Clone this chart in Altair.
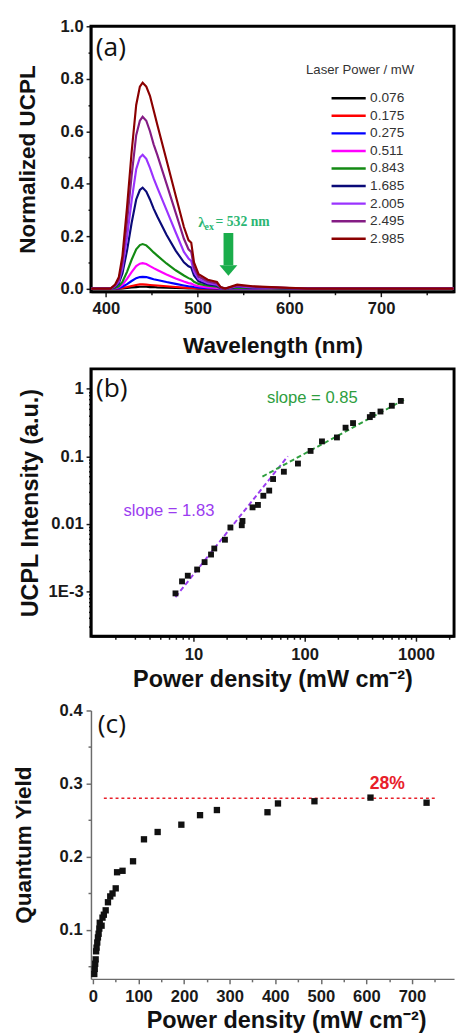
import altair as alt
import pandas as pd

FONT = "Liberation Sans"

# ---------------- panel (a): UCPL spectra ----------------
wavelength = [384, 405, 410, 414, 418, 423, 428, 433, 437, 440, 444, 448, 452, 456, 466, 476,
              485, 490, 493, 496, 501, 511, 521, 525, 530, 543, 560, 580, 600, 620, 700, 779]
power_labels = ["0.076", "0.175", "0.275", "0.511", "0.843", "1.685", "2.005", "2.495", "2.985"]
power_colors = ["#000000", "#ff0000", "#0000ff", "#ff00ff", "#138a13", "#0a0a78", "#9a33ff", "#841c84", "#8b0000"]

ucpl_0076 = [0, 0, 0, 0, 0.001, 0.003, 0.005, 0.006, 0.007, 0.007, 0.007, 0.006, 0.006, 0.005, 0.004, 0.003,
             0.002, 0.001, 0.001, 0.001, 0, 0, 0, 0, 0, 0, 0, 0, 0, 0, 0, 0]
ucpl_0175 = [0, 0, 0, 0.001, 0.003, 0.006, 0.010, 0.014, 0.016, 0.016, 0.015, 0.014, 0.013, 0.012, 0.009, 0.006,
             0.004, 0.003, 0.003, 0.002, 0.001, 0.001, 0, 0, 0, 0, 0, 0, 0, 0, 0, 0]
ucpl_0275 = [0, 0, 0.001, 0.002, 0.007, 0.017, 0.029, 0.040, 0.044, 0.045, 0.044, 0.040, 0.036, 0.033, 0.025, 0.018,
             0.012, 0.009, 0.008, 0.006, 0.004, 0.002, 0.001, 0, 0, 0.001, 0, 0, 0, 0, 0, 0]
ucpl_0511 = [0, 0, 0.002, 0.005, 0.015, 0.037, 0.063, 0.086, 0.095, 0.097, 0.094, 0.086, 0.078, 0.071, 0.054, 0.039,
             0.027, 0.021, 0.019, 0.014, 0.009, 0.005, 0.003, 0.001, 0, 0.002, 0.001, 0, 0, 0, 0, 0]
ucpl_0843 = [0, 0, 0.003, 0.009, 0.026, 0.064, 0.110, 0.150, 0.166, 0.170, 0.165, 0.152, 0.138, 0.126, 0.096, 0.070,
             0.050, 0.040, 0.036, 0.026, 0.018, 0.011, 0.007, 0.002, 0, 0.003, 0.002, 0.001, 0, 0, 0, 0]
ucpl_1685 = [0, 0, 0.007, 0.020, 0.058, 0.145, 0.250, 0.340, 0.376, 0.385, 0.370, 0.340, 0.305, 0.275, 0.205, 0.145,
             0.100, 0.085, 0.080, 0.050, 0.028, 0.016, 0.011, 0.003, 0, 0.007, 0.004, 0.003, 0.001, 0, 0, 0]
ucpl_2005 = [0, 0, 0.009, 0.026, 0.078, 0.195, 0.335, 0.455, 0.500, 0.510, 0.495, 0.460, 0.420, 0.385, 0.300, 0.215,
             0.140, 0.115, 0.105, 0.065, 0.036, 0.021, 0.015, 0.004, 0, 0.009, 0.005, 0.004, 0.002, 0, 0, 0]
ucpl_2495 = [0, 0, 0.012, 0.034, 0.100, 0.255, 0.430, 0.585, 0.640, 0.655, 0.640, 0.600, 0.550, 0.510, 0.400, 0.290,
             0.190, 0.150, 0.140, 0.080, 0.045, 0.027, 0.020, 0.005, 0, 0.012, 0.007, 0.005, 0.002, 0, 0, 0]
ucpl_2985 = [0, 0, 0.016, 0.043, 0.125, 0.310, 0.520, 0.700, 0.770, 0.785, 0.770, 0.735, 0.680, 0.625, 0.490, 0.355,
             0.235, 0.185, 0.175, 0.100, 0.055, 0.034, 0.025, 0.006, 0, 0.015, 0.009, 0.006, 0.003, 0, 0, 0]
spectra = [ucpl_0076, ucpl_0175, ucpl_0275, ucpl_0511, ucpl_0843, ucpl_1685, ucpl_2005, ucpl_2495, ucpl_2985]

# axis ranges
range_a_x = [383.7, 779.4]
range_a_y = [-0.012, 1.0]
range_b_x = [1.2, 2200]
range_b_y = [2.15e-4, 1.97]
range_c_x = [-4.3, 792.3]
range_c_y = [0.0333, 0.4]

# annotation positions (data units of panel a)
arrow_x = [533.5]
arrow_top = [0.212]
arrow_bottom = [0.089]
arrow_head = [0.069]
ann_lambda = {"x": [500.7], "y": [0.253], "t": ["λ"]}
ann_sub = {"x": [507.5], "y": [0.234], "t": ["ex"]}
ann_eq = {"x": [519.5], "y": [0.255], "t": ["= 532 nm"]}
legend_title = {"x": [677.0], "y": [0.834], "t": ["Laser Power / mW"]}
label_a = {"x": [389.0], "y": [0.916], "t": ["(a)"]}

# ---------------- panel (b): log-log intensity ----------------
density_b = [6.9, 7.9, 8.9, 10.8, 12.6, 14.4, 15.4, 19.2, 21.5, 27.2, 27.6, 34, 38, 42.5,
             48, 52, 65, 87, 113, 143, 195, 233, 272, 385, 406, 480, 607, 731]
intensity_b = [9.3e-4, 1.4e-3, 1.7e-3, 2.1e-3, 2.7e-3, 3.5e-3, 4.3e-3, 5.8e-3, 8.8e-3, 9.5e-3, 0.011,
               0.0175, 0.019, 0.026, 0.031, 0.046, 0.059, 0.078, 0.12, 0.166, 0.19, 0.265, 0.31,
               0.38, 0.41, 0.46, 0.56, 0.66]
fit_low_x = [6.9, 70.5]
fit_low_y = [8.2e-4, 0.1]
fit_high_x = [41.7, 780]
fit_high_y = [0.05, 0.686]
slope_high = {"x": [117], "y": [0.716], "t": ["slope = 0.85"]}
slope_low = {"x": [6.03], "y": [0.0155], "t": ["slope = 1.83"]}
label_b = {"x": [1.33], "y": [1.0], "t": ["(b)"]}

# ---------------- panel (c): quantum yield ----------------
density_c = [3.0, 4.0, 5.0, 6.0, 7.0, 8.0, 9.5, 11, 12.5, 14, 15, 19, 21, 24, 28, 33, 38, 43,
             50, 53, 65, 88, 112, 142, 194, 235, 272, 383, 406, 486, 609, 732]
qy_c = [0.040, 0.047, 0.054, 0.060, 0.071, 0.076, 0.083, 0.090, 0.095, 0.102, 0.110, 0.106,
        0.117, 0.121, 0.127, 0.138, 0.146, 0.150, 0.157, 0.179, 0.181, 0.194, 0.224, 0.234,
        0.244, 0.257, 0.264, 0.261, 0.273, 0.276, 0.281, 0.274]
ref_line = {"x": [24], "x2": [752], "y": [0.28]}
ref_text = {"x": [646], "y": [0.299], "t": ["28%"]}
label_c = {"x": [10.7], "y": [0.38], "t": ["(c)"]}

# ---------------- build tables ----------------
rows = []
for lab, vals in zip(power_labels, spectra):
    for w, v in zip(wavelength, vals):
        rows.append({"x": w, "y": v, "power": lab})
df_spec = pd.DataFrame(rows)

W = 372


def cond(test, a, b):
    return {"condition": {"test": test, "value": a}, "value": b}


def axis_common(**kw):
    base = dict(grid=False, labelFont=FONT, labelFontSize=17, labelFontWeight="bold",
                labelColor="#1a1a1a", titleFont=FONT, titleFontWeight="bold", titleColor="#111",
                labelOverlap=False, domainColor="#1a1a1a", domainWidth=2, tickColor="#1a1a1a",
                tickWidth=1.5)
    base.update(kw)
    return alt.Axis(**base)


def text_layer(d, xenc, yenc, **mk):
    return alt.Chart(pd.DataFrame(d)).mark_text(**mk).encode(x=xenc, y=yenc, text="t:N")


def frame_layer(xr, yr, xenc, yenc):
    # box outline of the plot area, drawn from the axis ranges
    d = pd.DataFrame({"x": [xr[0]], "x2": [xr[1]], "y": [yr[0]], "y2": [yr[1]]})
    return alt.Chart(d).mark_rect(fill="transparent", stroke="#000000", strokeWidth=3,
                                  strokeOpacity=1).encode(
        x=xenc, x2="x2:Q", y=yenc, y2="y2:Q")


# ---------- panel (a) ----------
sx_a = alt.Scale(domain=range_a_x, nice=False, zero=False)
sy_a = alt.Scale(domain=range_a_y, nice=False, zero=False)
xa = alt.X("x:Q", scale=sx_a, axis=axis_common(
    title="Wavelength (nm)", titleFontSize=23, titlePadding=19, labelPadding=4,
    values=[400, 450, 500, 550, 600, 650, 700, 750], labelFlush=False,
    labelExpr="datum.value % 100 == 0 ? datum.label : ''",
    tickSize=cond("datum.value % 100 == 0", 5, 3)))
ya = alt.Y("y:Q", scale=sy_a, axis=axis_common(
    title="Normalized UCPL", titleFontSize=23, titlePadding=21, labelPadding=3,
    values=[0, 0.1, 0.2, 0.3, 0.4, 0.5, 0.6, 0.7, 0.8, 0.9, 1.0],
    labelExpr="round(datum.value*10) % 2 == 0 ? format(datum.value, '.1f') : ''",
    tickSize=cond("round(datum.value*10) % 2 == 0", 5, 3)))

lines_a = alt.Chart(df_spec).mark_line(strokeWidth=2.2, clip=True).encode(
    x=xa, y=ya,
    color=alt.Color("power:N", scale=alt.Scale(domain=power_labels, range=power_colors),
                    legend=alt.Legend(orient="none", legendX=245, legendY=64.7, title=None,
                                      symbolType="stroke", symbolSize=1225, symbolStrokeWidth=2.5,
                                      clipHeight=18, rowPadding=0, labelFont=FONT, labelFontSize=14,
                                      labelColor="#333", labelOffset=3, padding=0)))
shaft = alt.Chart(pd.DataFrame({"x": arrow_x, "y": arrow_top, "y2": arrow_bottom})).mark_rule(
    strokeWidth=10, color="#1aad4b").encode(x=xa, y=ya, y2="y2:Q")
head = alt.Chart(pd.DataFrame({"x": arrow_x, "y": arrow_head})).mark_point(
    shape="M-1,-0.585L1,-0.585L0,0.585Z", filled=True, size=335, opacity=1,
    color="#1aad4b").encode(x=xa, y=ya)
t_lam = text_layer(ann_lambda, xa, ya, font="Liberation Serif", fontSize=15, fontWeight="bold",
                   color="#2bb673", align="left", baseline="middle")
t_sub = text_layer(ann_sub, xa, ya, font="Liberation Serif", fontSize=10, fontWeight="bold",
                   color="#2bb673", align="left", baseline="middle")
t_eq = text_layer(ann_eq, xa, ya, font="Liberation Serif", fontSize=14, fontWeight="bold",
                  color="#2bb673", align="left", baseline="middle")
t_legtitle = text_layer(legend_title, xa, ya, font=FONT, fontSize=13.5, color="#333",
                        align="center", baseline="middle")
t_a = text_layer(label_a, xa, ya, font="Open Sans", fontSize=27, color="#111",
                 align="left", baseline="middle")

pa = alt.layer(frame_layer(range_a_x, range_a_y, xa, ya), lines_a, shaft, head, t_lam, t_sub,
               t_eq, t_legtitle, t_a).properties(width=W, height=272)

# ---------- panel (b) ----------
sx_b = alt.Scale(type="log", domain=range_b_x, nice=False)
sy_b = alt.Scale(type="log", domain=range_b_y, nice=False)
xb_vals = [2, 3, 4, 5, 6, 7, 8, 9, 10, 20, 30, 40, 50, 60, 70, 80, 90,
           100, 200, 300, 400, 500, 600, 700, 800, 900, 1000, 2000]
yb_vals = [0.0003, 0.0004, 0.0005, 0.0006, 0.0007, 0.0008, 0.0009, 0.001,
           0.002, 0.003, 0.004, 0.005, 0.006, 0.007, 0.008, 0.009, 0.01,
           0.02, 0.03, 0.04, 0.05, 0.06, 0.07, 0.08, 0.09, 0.1,
           0.2, 0.3, 0.4, 0.5, 0.6, 0.7, 0.8, 0.9, 1]
xb = alt.X("x:Q", scale=sx_b, axis=axis_common(
    title="Power density (mW cm⁻²)", titleFontSize=24, titlePadding=5.5, labelPadding=6,
    values=xb_vals, labelFlush=False,
    labelExpr="indexof([10,100,1000], datum.value) >= 0 ? format(datum.value, 'd') : ''",
    tickSize=cond("indexof([10,100,1000], datum.value) >= 0", 5, 3)))
yb = alt.Y("y:Q", scale=sy_b, axis=axis_common(
    title="UCPL Intensity (a.u.)", titleFontSize=24, titlePadding=6, labelPadding=3,
    values=yb_vals,
    labelExpr="datum.value == 1 ? '1' : datum.value == 0.1 ? '0.1' : datum.value == 0.01 ? '0.01' : datum.value == 0.001 ? '1E-3' : ''",
    tickSize=cond("indexof([1,0.1,0.01,0.001], datum.value) >= 0", 5, 2.5)))

pts_b = alt.Chart(pd.DataFrame({"x": density_b, "y": intensity_b})).mark_square(
    size=36, color="#111", opacity=1).encode(x=xb, y=yb)
fit_low = alt.Chart(pd.DataFrame({"x": fit_low_x, "y": fit_low_y})).mark_line(
    color="#9b3cf0", strokeDash=[5, 3], strokeWidth=2).encode(x=xb, y=yb)
fit_high = alt.Chart(pd.DataFrame({"x": fit_high_x, "y": fit_high_y})).mark_line(
    color="#2e9e3e", strokeDash=[5, 3], strokeWidth=2).encode(x=xb, y=yb)
t_sh = text_layer(slope_high, xb, yb, font=FONT, fontSize=17, color="#2e9e3e",
                  align="center", baseline="middle")
t_sl = text_layer(slope_low, xb, yb, font=FONT, fontSize=17, color="#9b3cf0",
                  align="center", baseline="middle")
t_b = text_layer(label_b, xb, yb, font="Open Sans", fontSize=27, color="#111",
                 align="left", baseline="middle")

pb = alt.layer(frame_layer(range_b_x, range_b_y, xb, yb), fit_low, fit_high, pts_b, t_sh, t_sl,
               t_b).properties(width=W, height=274)

# ---------- panel (c) ----------
sx_c = alt.Scale(domain=range_c_x, nice=False, zero=False)
sy_c = alt.Scale(domain=range_c_y, nice=False, zero=False)
xc = alt.X("x:Q", scale=sx_c, axis=axis_common(
    title="Power density (mW cm⁻²)", titleFontSize=24, titlePadding=5, labelPadding=5,
    titleX=200, titleAnchor="middle",
    values=[0, 50, 100, 150, 200, 250, 300, 350, 400, 450, 500, 550, 600, 650, 700, 750],
    labelFlush=False, domainColor="#6b6b6b", domainWidth=1.5, tickColor="#6b6b6b",
    labelExpr="datum.value % 100 == 0 ? datum.label : ''",
    tickSize=cond("datum.value % 100 == 0", 5, 3)))
yc = alt.Y("y:Q", scale=sy_c, axis=axis_common(
    title="Quantum Yield", titleFontSize=23, titlePadding=24, labelPadding=4,
    values=[0.05, 0.1, 0.15, 0.2, 0.25, 0.3, 0.35, 0.4],
    domainColor="#6b6b6b", domainWidth=1.5, tickColor="#6b6b6b",
    labelExpr="round(datum.value*20) % 2 == 0 ? format(datum.value, '.1f') : ''",
    tickSize=cond("round(datum.value*20) % 2 == 0", 5, 3)))

ref_c = alt.Chart(pd.DataFrame(ref_line)).mark_rule(
    color="#e8202a", strokeDash=[3, 3], strokeWidth=1.6).encode(x=xc, x2="x2:Q", y=yc)
pts_c = alt.Chart(pd.DataFrame({"x": density_c, "y": qy_c})).mark_square(
    size=42, color="#111", opacity=1).encode(x=xc, y=yc)
t_ref = text_layer(ref_text, xc, yc, font=FONT, fontSize=18, fontWeight="bold", color="#e8202a",
                   align="center", baseline="middle")
t_c = text_layer(label_c, xc, yc, font="Open Sans", fontSize=27, color="#111",
                 align="left", baseline="middle")

pc = alt.layer(ref_c, pts_c, t_ref, t_c).properties(width=W, height=275)

chart = alt.vconcat(pa, pb, pc, spacing=9).properties(
    padding={"left": 4, "top": -4, "right": 0, "bottom": 0}
).configure_view(stroke="transparent")

chart.save("out.html", embed_options={"renderer": "svg", "actions": False})
